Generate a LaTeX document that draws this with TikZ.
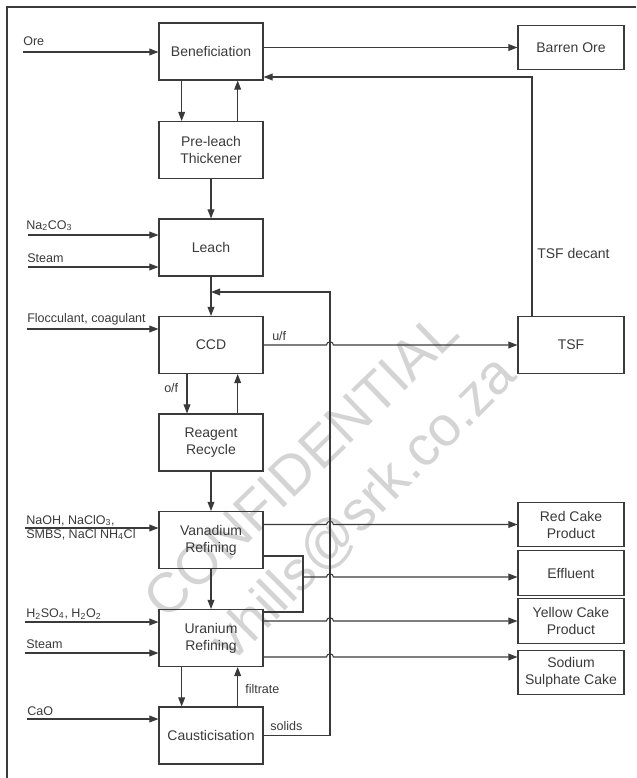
\documentclass[tikz,border=0pt]{standalone}
\usepackage{fontspec}
\setmainfont{Liberation Sans}
\usepackage{tikz}
\usetikzlibrary{arrows.meta,positioning}
\definecolor{inkgrey}{HTML}{3A3A3A}
\definecolor{markgrey}{HTML}{D4D4D4}
\tikzset{
  unit/.style={draw=inkgrey, line width=0.8pt, text=inkgrey, align=center, inner sep=2pt, minimum width=78pt, minimum height=42.75pt, font=\fontsize{10.5pt}{12.75pt}\selectfont},
  product/.style={draw=inkgrey, line width=0.8pt, text=inkgrey, align=center, inner sep=2pt, minimum width=79.5pt, minimum height=33.5pt, font=\fontsize{10.5pt}{12.75pt}\selectfont},
  tag/.style={anchor=base west, inner sep=0pt, text=inkgrey, font=\fontsize{9.4pt}{11pt}\selectfont},
  flow/.style={draw=inkgrey, line width=0.8pt},
  arrow/.style={flow, -{Triangle[length=2.4mm,width=1.8mm]}},
  hopover/.style={insert path={arc[start angle=180, end angle=0, x radius=2.6pt, y radius=2.4pt]}},
  wmark/.style={inner sep=0pt, text=markgrey, font=\fontsize{42pt}{42pt}\selectfont}
}

\begin{document}
\begin{tikzpicture}[x=0.75pt, y=-0.75pt]
\useasboundingbox (0,0) rectangle (636,778);
% watermark
\node[wmark, rotate=44] (wm1) at (301,465) {CONFIDENTIAL};
\node[wmark, rotate=45] (wm2) at (364,509) {vhills@srk.co.za};
% frame
\coordinate (fbl) at (7,778);
\coordinate (ftl) at (7,7);
\coordinate (ftr) at (636,7);
\draw[flow] (fbl) -- (ftl) -- (ftr);
% process units
\node[unit] (ben) at (211,51.5) {Beneficiation};
\node[unit] (pre) at (211,150) {Pre-leach\\Thickener};
\node[unit] (leach) at (211,247.5) {Leach};
\node[unit] (ccd) at (211,345) {CCD};
\node[unit] (rr) at (211,442.5) {Reagent\\Recycle};
\node[unit] (van) at (211,540) {Vanadium\\Refining};
\node[unit] (ura) at (211,638) {Uranium\\Refining};
\node[unit] (cau) at (211,735.5) {Causticisation};
% outputs
\node[product] (barren) at (571,47.5) {Barren Ore};
\node[product, minimum height=42.75pt] (tsf) at (571,345) {TSF};
\node[product] (red) at (571,524.5) {Red Cake\\Product};
\node[product] (eff) at (571,573) {Effluent};
\node[product] (yel) at (571,621) {Yellow Cake\\Product};
\node[product] (sod) at (571,672.5) {Sodium\\Sulphate Cake};
% return line and hops
\coordinate (rtop) at (330,292);
\coordinate (hopx) at (326.5,0);
\coordinate (dec) at (532,77);
\coordinate (eff1) at (303,556);
\coordinate (eff2) at (303,612);
\coordinate (effj) at (303,577);
\coordinate (sodin) at ([yshift=-14.25pt]ura.east);
% feeds
\coordinate (ore) at (23,52);
\coordinate (na) at (28,235);
\coordinate (st1) at (28,267);
\coordinate (floc) at (27,329);
\coordinate (naoh) at (25,528);
\coordinate (acid) at (25,622);
\coordinate (st2) at (25,653);
\coordinate (cao) at (27,719);
\node[tag] (oretxt) at (23,45) {Ore};
\node[tag] (natxt) at (26,229) {Na\textsubscript{2}CO\textsubscript{3}};
\node[tag] (st1txt) at (27,262) {Steam};
\node[tag] (floctxt) at (27,322) {Flocculant, coagulant};
\node[tag] (naohtxt) at (26,524) {NaOH, NaClO\textsubscript{3},};
\node[tag] (smbstxt) at (26,538) {SMBS, NaCl NH\textsubscript{4}Cl};
\node[tag] (acidtxt) at (26,617) {H\textsubscript{2}SO\textsubscript{4}, H\textsubscript{2}O\textsubscript{2}};
\node[tag] (st2txt) at (26,648) {Steam};
\node[tag] (caotxt) at (27,715) {CaO};
\draw[arrow] (ore) -- (ore -| ben.west);
\draw[arrow] (na) -- (na -| leach.west);
\draw[arrow] (st1) -- (st1 -| leach.west);
\draw[arrow] (floc) -- (floc -| ccd.west);
\draw[arrow] (naoh) -- (naoh -| van.west);
\draw[arrow] (acid) -- (acid -| ura.west);
\draw[arrow] (st2) -- (st2 -| ura.west);
\draw[arrow] (cao) -- (cao -| cau.west);
% main train
\draw[arrow] ([xshift=-22pt]ben.south) -- ([xshift=-22pt]pre.north);
\draw[arrow] ([xshift=20pt]pre.north) -- ([xshift=20pt]ben.south);
\draw[arrow] (pre) -- (leach);
\draw[arrow] (leach) -- (ccd);
\draw[arrow] ([xshift=-18pt]ccd.south) -- ([xshift=-18pt]rr.north);
\draw[arrow] ([xshift=20pt]rr.north) -- ([xshift=20pt]ccd.south);
\draw[arrow] (rr) -- (van);
\draw[arrow] (van) -- (ura);
\draw[arrow] ([xshift=-22pt]ura.south) -- ([xshift=-22pt]cau.north);
\draw[arrow] ([xshift=20pt]cau.north) -- ([xshift=20pt]ura.south);
\node[tag] (oftxt) at (164,392) {o/f};
\node[tag] (filttxt) at (245,693) {filtrate};
% products
\draw[arrow] (ben.east |- barren) -- (barren.west);
\draw[arrow] (tsf.north -| dec) -- (dec) -- (dec -| ben.east);
\node[tag, font=\fontsize{10.5pt}{12pt}\selectfont] (dectxt) at (537,258) {TSF decant};
\draw[arrow] (ccd.east) -- (hopx |- ccd.east) [hopover] -- (tsf.west);
\node[tag] (uftxt) at (272,340) {u/f};
\draw[arrow] (van.east |- red) -- (hopx |- red) [hopover] -- (red.west);
\draw[flow] (van.east |- eff1) -- (eff1) -- (eff2) -- (eff2 -| ura.east);
\draw[arrow] (effj) -- (hopx |- effj) [hopover] -- (effj -| eff.west);
\draw[arrow] (ura.east |- yel) -- (hopx |- yel) [hopover] -- (yel.west);
\draw[arrow] (sodin) -- (hopx |- sodin) [hopover] -- (sodin -| sod.west);
\draw[arrow] (cau.east) -- (cau.east -| rtop) -- (rtop) -- (rtop -| leach.south);
\node[tag] (soltxt) at (270,730) {solids};
\end{tikzpicture}
\end{document}
